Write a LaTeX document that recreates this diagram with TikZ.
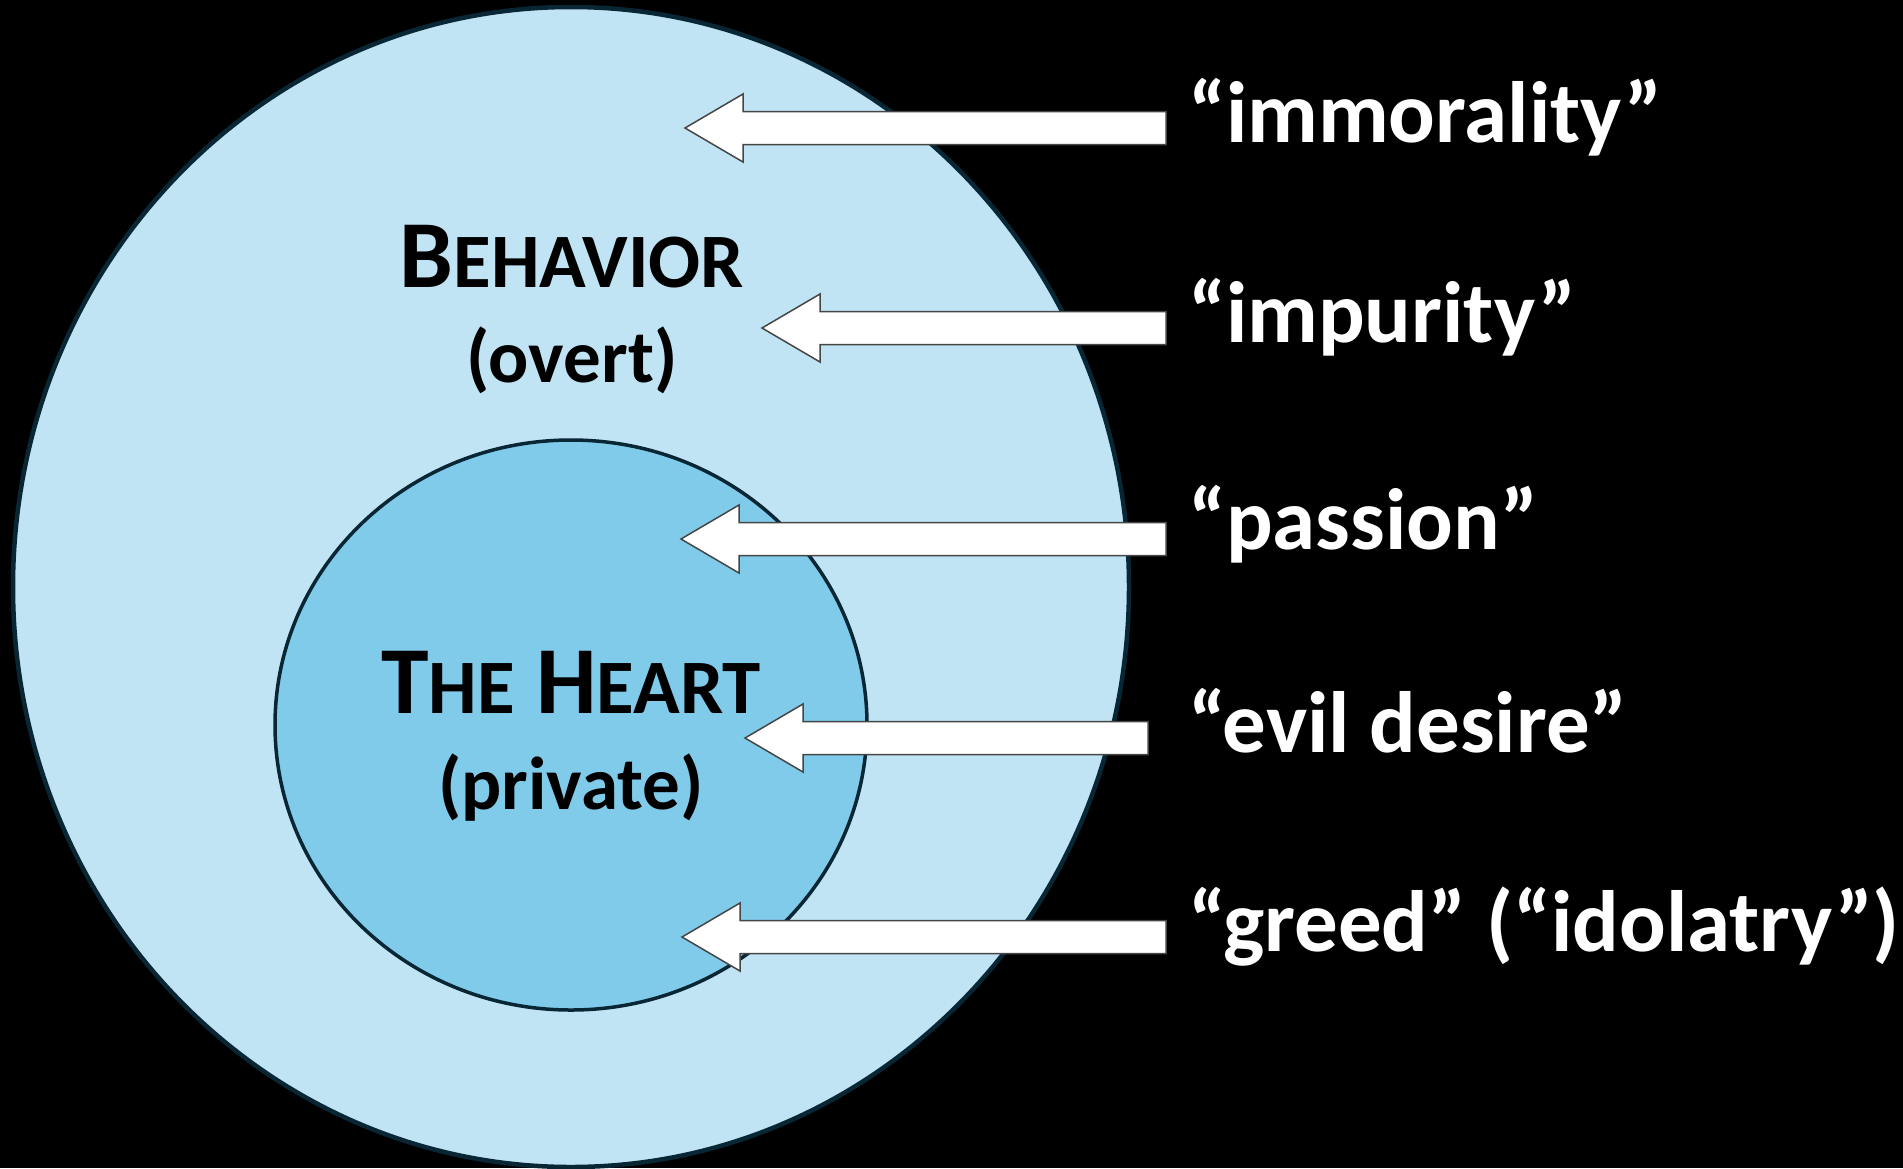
\documentclass[tikz,border=0pt]{standalone}
\usepackage{fontspec}
\setmainfont{Carlito}
\usetikzlibrary{calc}

\definecolor{behaviorblue}{RGB}{192,228,244}
\definecolor{heartblue}{RGB}{128,202,234}
\definecolor{rimnavy}{RGB}{8,38,52}
\definecolor{arrowrim}{RGB}{70,70,70}

% fake small capitals
\newcommand{\scsmall}[1]{{\fontsize{77}{90}\selectfont #1}}

\begin{document}
\begin{tikzpicture}[x=1pt, y=-1pt,
    titletext/.style={inner sep=0pt, anchor=base, font=\bfseries\fontsize{96}{110}\selectfont},
    subtext/.style={inner sep=0pt, anchor=base, font=\bfseries\fontsize{75}{88}\selectfont},
    quotetext/.style={inner sep=0pt, anchor=base west, text=white, font=\bfseries\fontsize{87}{100}\selectfont},
    blockarrow/.style={fill=white, draw=arrowrim, line width=1.5pt, line join=miter}]
    % Background
    \fill[black] (0,0) rectangle (1903,1168);
    \useasboundingbox (0,0) rectangle (1903,1168);

    % Outer circle: behavior
    \draw[line width=4.5pt, draw=rimnavy, fill=behaviorblue] (571,587) ellipse [x radius=558, y radius=580];
    \node[titletext] (behavior) at (572,287) {B\scsmall{EHAVIOR}};
    \node[subtext] (overt) at (572,382) {(overt)};

    % Inner circle: the heart
    \draw[line width=3.5pt, draw=rimnavy, fill=heartblue] (571,725) ellipse [x radius=296, y radius=285];
    \node[titletext] (heart) at (571,713) {T\scsmall{HE} H\scsmall{EART}};
    \node[subtext] (private) at (571,809) {(private)};

    % Words and block arrows pointing into the circles
    \foreach \i/\y/\base/\tipx/\endx/\word in {1/128/142/685/1166/{“immorality”},
        2/328/342/762/1166/{“impurity”}, 3/539/549/681/1166/{“passion”},
        4/738/752/745/1148/{“evil desire”}, 5/937/951/682/1166/{“greed” (“idolatry”)}} {
        \coordinate (tip\i) at (\tipx,\y);
        \coordinate (tail\i) at (\endx,\y);
        \node[quotetext] (word\i) at (1188,\base) {\word};
        \draw[blockarrow] (tip\i) -- ($(tip\i)+(58,-34)$) -- ($(tip\i)+(58,-16.5)$)
            -- ($(tail\i)+(0,-16.5)$) -- ($(tail\i)+(0,16.5)$)
            -- ($(tip\i)+(58,16.5)$) -- ($(tip\i)+(58,34)$) -- cycle;
    }
\end{tikzpicture}
\end{document}
